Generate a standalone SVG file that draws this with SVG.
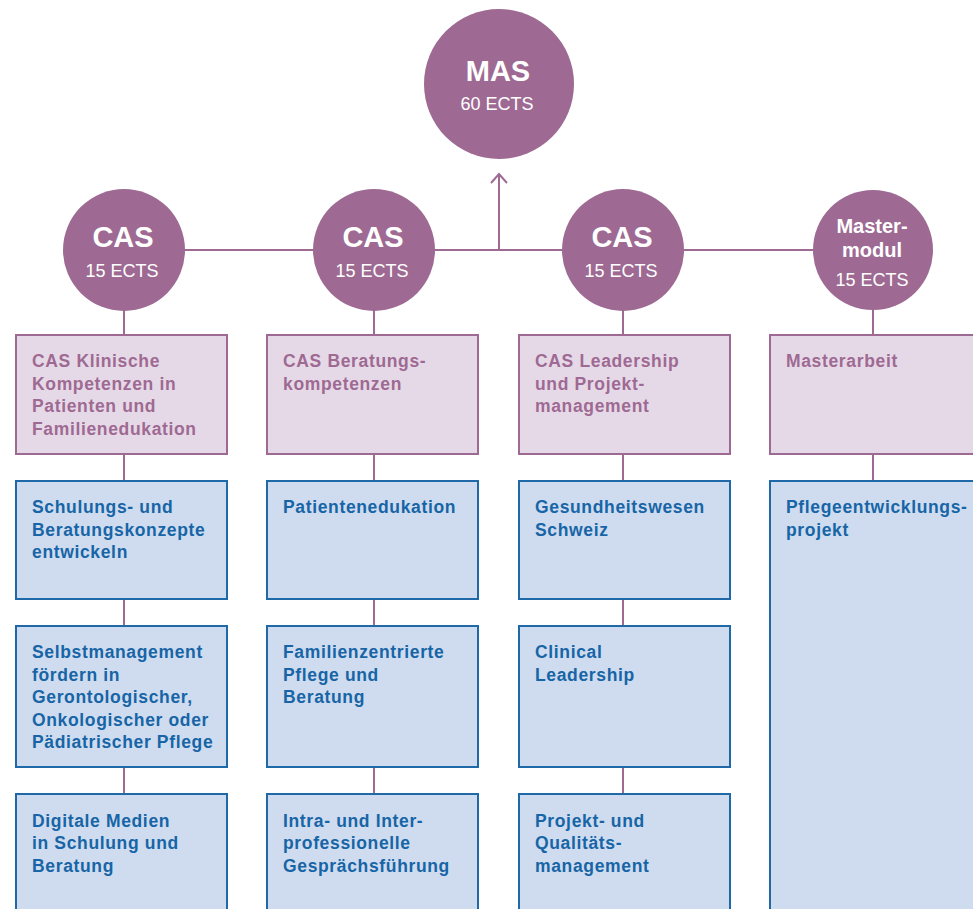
<svg xmlns="http://www.w3.org/2000/svg" width="973" height="909" viewBox="0 0 973 909">
<style>
.bg{fill:#ffffff}
.conn{stroke:#9e6a93;stroke-width:2;fill:none}
.circ{fill:#9e6a93}
.pink{fill:#e6d9e7;stroke:#9e6a93;stroke-width:2}
.blue{fill:#cfdcef;stroke:#1f69a8;stroke-width:2}
.ct{font-family:"Liberation Sans",Arial,sans-serif;fill:#ffffff;text-anchor:middle}
.big{font-weight:bold;font-size:29px}
.ects{font-size:18px}
.mm{font-weight:bold;font-size:20px}
.pt{font-family:"Liberation Sans",Arial,sans-serif;font-weight:bold;font-size:17.5px;letter-spacing:0.65px;fill:#9e6a93}
.bt{font-family:"Liberation Sans",Arial,sans-serif;font-weight:bold;font-size:17.5px;letter-spacing:0.65px;fill:#1765a6}
</style>
<rect class="bg" x="0" y="0" width="973" height="909"/>
<g id="connectors">
<line class="conn" x1="124" y1="250" x2="873" y2="250"/>
<path d="M499,250 L499,174" class="conn"/>
<path d="M491,183 L499,174 L507,183" class="conn"/>
<line class="conn" x1="124" y1="300" x2="124" y2="334"/>
<line class="conn" x1="124" y1="455" x2="124" y2="480"/>
<line class="conn" x1="124" y1="600" x2="124" y2="625"/>
<line class="conn" x1="124" y1="768" x2="124" y2="793"/>
<line class="conn" x1="374" y1="300" x2="374" y2="334"/>
<line class="conn" x1="374" y1="455" x2="374" y2="480"/>
<line class="conn" x1="374" y1="600" x2="374" y2="625"/>
<line class="conn" x1="374" y1="768" x2="374" y2="793"/>
<line class="conn" x1="623" y1="300" x2="623" y2="334"/>
<line class="conn" x1="623" y1="455" x2="623" y2="480"/>
<line class="conn" x1="623" y1="600" x2="623" y2="625"/>
<line class="conn" x1="623" y1="768" x2="623" y2="793"/>
<line class="conn" x1="873" y1="300" x2="873" y2="334"/>
<line class="conn" x1="873" y1="455" x2="873" y2="480"/>
</g>
<g id="mas">
<circle class="circ" cx="499" cy="84" r="75"/>
<text class="ct big" x="498" y="81">MAS</text>
<text class="ct ects" x="497" y="110">60 ECTS</text>
</g>
<g id="cas1">
<circle class="circ" cx="124" cy="250" r="61"/>
<text class="ct big" x="123" y="247">CAS</text>
<text class="ct ects" x="122" y="277">15 ECTS</text>
</g>
<g id="cas2">
<circle class="circ" cx="374" cy="250" r="61"/>
<text class="ct big" x="373" y="247">CAS</text>
<text class="ct ects" x="372" y="277">15 ECTS</text>
</g>
<g id="cas3">
<circle class="circ" cx="623" cy="250" r="61"/>
<text class="ct big" x="622" y="247">CAS</text>
<text class="ct ects" x="621" y="277">15 ECTS</text>
</g>
<g id="mastermodul">
<circle class="circ" cx="873" cy="250" r="60"/>
<text class="ct mm" x="872" y="233">Master-</text>
<text class="ct mm" x="872" y="257">modul</text>
<text class="ct ects" x="872" y="286">15 ECTS</text>
</g>
<g id="p1">
<rect class="pink" x="16" y="335" width="211" height="119"/>
<text class="pt" x="32" y="367">CAS Klinische</text>
<text class="pt" x="32" y="389.5">Kompetenzen in</text>
<text class="pt" x="32" y="412">Patienten und</text>
<text class="pt" x="32" y="434.5">Familienedukation</text>
</g>
<g id="p2">
<rect class="pink" x="267" y="335" width="211" height="119"/>
<text class="pt" x="283" y="367">CAS Beratungs-</text>
<text class="pt" x="283" y="389.5">kompetenzen</text>
</g>
<g id="p3">
<rect class="pink" x="519" y="335" width="211" height="119"/>
<text class="pt" x="535" y="367">CAS Leadership</text>
<text class="pt" x="535" y="389.5">und Projekt-</text>
<text class="pt" x="535" y="412">management</text>
</g>
<g id="p4">
<rect class="pink" x="770" y="335" width="215" height="119"/>
<text class="pt" x="786" y="367">Masterarbeit</text>
</g>
<g id="b11">
<rect class="blue" x="16" y="481" width="211" height="118"/>
<text class="bt" x="32" y="513">Schulungs- und</text>
<text class="bt" x="32" y="535.5">Beratungskonzepte</text>
<text class="bt" x="32" y="558">entwickeln</text>
</g>
<g id="b12">
<rect class="blue" x="16" y="626" width="211" height="141"/>
<text class="bt" x="32" y="658">Selbstmanagement</text>
<text class="bt" x="32" y="680.5">fördern in</text>
<text class="bt" x="32" y="703">Gerontologischer,</text>
<text class="bt" x="32" y="725.5">Onkologischer oder</text>
<text class="bt" x="32" y="748">Pädiatrischer Pflege</text>
</g>
<g id="b13">
<rect class="blue" x="16" y="794" width="211" height="130"/>
<text class="bt" x="32" y="826.5">Digitale Medien</text>
<text class="bt" x="32" y="849">in Schulung und</text>
<text class="bt" x="32" y="871.5">Beratung</text>
</g>
<g id="b21">
<rect class="blue" x="267" y="481" width="211" height="118"/>
<text class="bt" x="283" y="513">Patientenedukation</text>
</g>
<g id="b22">
<rect class="blue" x="267" y="626" width="211" height="141"/>
<text class="bt" x="283" y="658">Familienzentrierte</text>
<text class="bt" x="283" y="680.5">Pflege und</text>
<text class="bt" x="283" y="703">Beratung</text>
</g>
<g id="b23">
<rect class="blue" x="267" y="794" width="211" height="130"/>
<text class="bt" x="283" y="826.5">Intra- und Inter-</text>
<text class="bt" x="283" y="849">professionelle</text>
<text class="bt" x="283" y="871.5">Gesprächsführung</text>
</g>
<g id="b31">
<rect class="blue" x="519" y="481" width="211" height="118"/>
<text class="bt" x="535" y="513">Gesundheitswesen</text>
<text class="bt" x="535" y="535.5">Schweiz</text>
</g>
<g id="b32">
<rect class="blue" x="519" y="626" width="211" height="141"/>
<text class="bt" x="535" y="658">Clinical</text>
<text class="bt" x="535" y="680.5">Leadership</text>
</g>
<g id="b33">
<rect class="blue" x="519" y="794" width="211" height="130"/>
<text class="bt" x="535" y="826.5">Projekt- und</text>
<text class="bt" x="535" y="849">Qualitäts-</text>
<text class="bt" x="535" y="871.5">management</text>
</g>
<g id="b41">
<rect class="blue" x="770" y="481" width="215" height="450"/>
<text class="bt" x="786" y="513">Pflegeentwicklungs-</text>
<text class="bt" x="786" y="535.5">projekt</text>
</g>
</svg>
